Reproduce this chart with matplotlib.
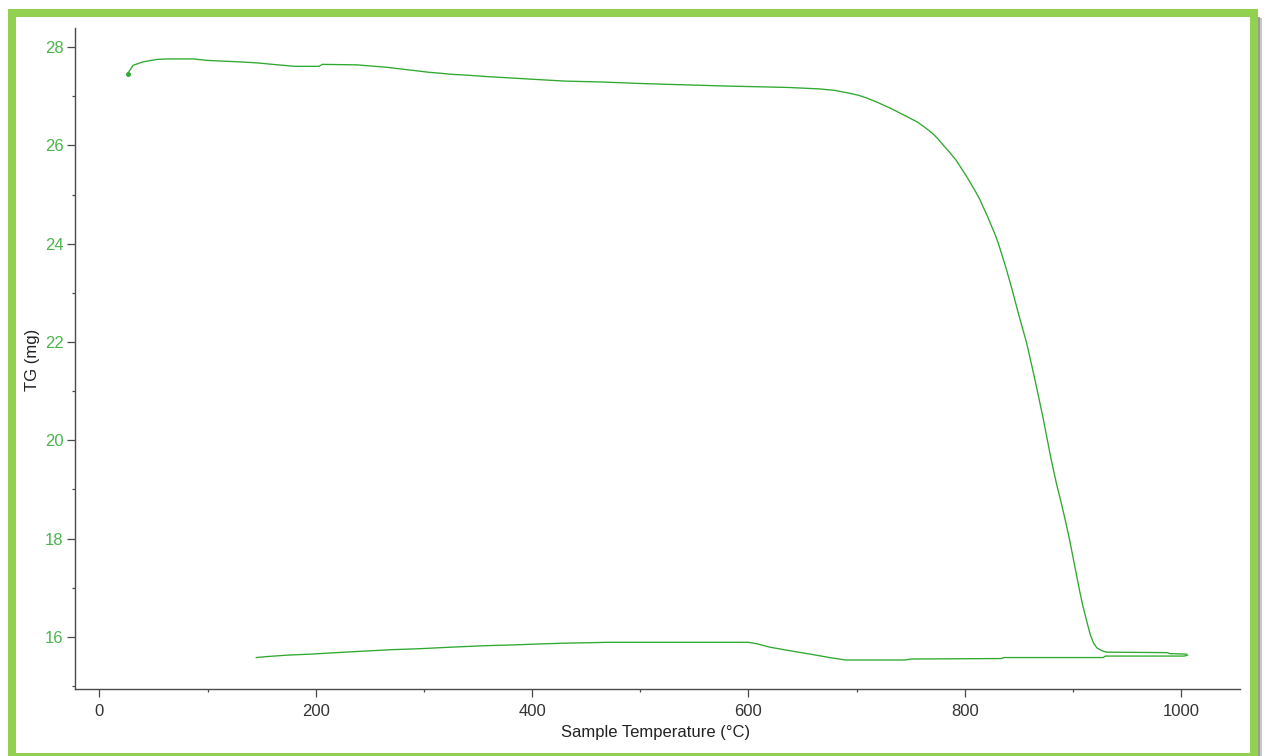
import matplotlib
matplotlib.use("Agg")
import matplotlib.pyplot as plt
from matplotlib.patches import Rectangle
from matplotlib.ticker import MultipleLocator

# Heating run: sample temperature (°C) and mass (mg)
heat_temp = [26, 31, 40, 53, 62, 87, 100, 130, 146, 160, 181, 203, 206, 238,
             266, 281, 293, 304, 315, 324, 340, 359, 383, 406, 430, 466, 501,
             531, 578, 637, 666, 680, 694, 702, 710, 718, 725, 733, 740, 748,
             756, 763, 770, 775, 780, 786, 792, 797, 802, 806, 810, 814, 817,
             821, 824, 828, 831, 838, 844, 850, 857, 862, 867, 872, 876, 880,
             885, 889, 893, 897, 901, 906, 909, 913, 916, 919, 922, 925, 928,
             931, 987, 990, 1005]
heat_mass = [27.46, 27.63, 27.70, 27.75, 27.76, 27.76, 27.73, 27.70, 27.68,
             27.65, 27.61, 27.61, 27.65, 27.64, 27.59, 27.55, 27.52, 27.49,
             27.47, 27.45, 27.43, 27.40, 27.37, 27.34, 27.31, 27.29, 27.26,
             27.24, 27.21, 27.18, 27.15, 27.12, 27.06, 27.02, 26.96, 26.89,
             26.82, 26.74, 26.66, 26.57, 26.48, 26.37, 26.25, 26.14, 26.01,
             25.86, 25.70, 25.53, 25.36, 25.21, 25.06, 24.90, 24.75, 24.56,
             24.40, 24.19, 24.01, 23.52, 23.05, 22.55, 22.00, 21.52, 21.02,
             20.50, 20.05, 19.60, 19.10, 18.75, 18.37, 17.97, 17.52, 16.96,
             16.65, 16.30, 16.05, 15.88, 15.78, 15.74, 15.71, 15.69, 15.68,
             15.66, 15.65]

# Cooling run back down from the maximum temperature
cool_temp = [1006, 1003, 930, 928, 836, 834, 750, 745, 690, 675, 657, 638,
             620, 608, 600, 470, 426, 398, 387, 355, 324, 296, 270, 244, 219,
             196, 174, 155, 145]
cool_mass = [15.63, 15.61, 15.61, 15.58, 15.58, 15.56, 15.55, 15.53, 15.53,
             15.58, 15.65, 15.72, 15.79, 15.86, 15.89, 15.89, 15.87, 15.85,
             15.84, 15.82, 15.79, 15.76, 15.74, 15.71, 15.68, 15.65, 15.63,
             15.60, 15.58]

x_ticks = [0, 200, 400, 600, 800, 1000]
y_ticks = [16, 18, 20, 22, 24, 26, 28]

W, H = 1264, 756
plt.rcParams['font.family'] = ['Liberation Sans', 'DejaVu Sans']

fig = plt.figure(figsize=(W / 100, H / 100), dpi=100)
fig.patch.set_facecolor('white')

left, right, bottom, top = 74.5, 1240, 689, 28
ax = fig.add_axes([left / W, 1 - bottom / H, (right - left) / W, (bottom - top) / H])

line_col = '#2ea82e'
ax.plot(heat_temp, heat_mass, color=line_col, lw=0.95)
ax.plot(cool_temp, cool_mass, color=line_col, lw=0.95)
ax.plot(heat_temp[0], heat_mass[0], 'o', color=line_col, ms=2.5)

ax.set_xlim(-23.1, 1054.5)
ax.set_ylim(14.94, 28.39)
ax.set_xticks(x_ticks)
ax.set_yticks(y_ticks)
ax.xaxis.set_minor_locator(MultipleLocator(100))
ax.yaxis.set_minor_locator(MultipleLocator(1))

for s in ('top', 'right'):
    ax.spines[s].set_visible(False)
for s in ('left', 'bottom'):
    ax.spines[s].set_color('#4a4a4a')
    ax.spines[s].set_linewidth(1.0)

ax.tick_params(axis='both', which='major', direction='out', length=5.5,
               width=0.9, color='#4a4a4a', labelsize=12)
ax.tick_params(axis='both', which='minor', direction='out', length=2.5,
               width=0.9, color='#4a4a4a')
ax.tick_params(axis='y', which='major', labelcolor='#4cb44c', pad=2.5)
ax.tick_params(axis='x', which='major', labelcolor='#333333', pad=5)

ax.set_xlabel('Sample Temperature (°C)', fontsize=12, color='#222222', va='center')
ax.xaxis.set_label_coords((656 - left) / (right - left), -(732 - bottom) / (bottom - top))
ax.set_ylabel('TG (mg)', fontsize=12, color='#222222', va='center')
ax.yaxis.set_label_coords((33 - left) / (right - left), (bottom - 360) / (bottom - top))


def band(x0, y0, x1, y1, color, alpha=1.0):
    fig.patches.append(Rectangle((x0 / W, 1 - y1 / H), (x1 - x0) / W, (y1 - y0) / H,
                                 transform=fig.transFigure, facecolor=color,
                                 edgecolor='none', alpha=alpha, zorder=10))


# Frame with a soft shadow on the right
band(1258, 17, 1260, 756, '#9a9a9a')
band(1260, 18, 1262, 756, '#c8c8c8')
border = '#92d050'
band(8, 9, 1258, 17, border)
band(8, 9, 16, 756, border)
band(1250, 9, 1258, 756, border)
band(8, 753, 1258, 756, border)

fig.savefig('out.png', dpi=100, facecolor='white')
